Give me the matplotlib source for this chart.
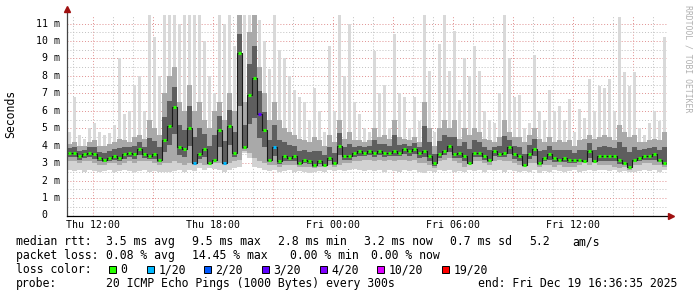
import numpy as np
import matplotlib.pyplot as plt
from matplotlib.patches import Rectangle
from matplotlib.transforms import blended_transform_factory

# 15 minute bins, hours relative to Thu 12:00 (graph starts ~Thu 10:42)
start_hour = -1.3
bin_hours = 0.25

# median rtt (ms) per bin
median = [3.6, 3.6, 3.4, 3.5, 3.6, 3.5, 3.3, 3.2, 3.3, 3.4, 3.3, 3.5, 3.6, 3.5, 3.8, 3.5, 3.4, 3.5, 3.2, 4.3,
          5.1, 6.2, 3.9, 3.8, 5.0, 3.0, 3.5, 3.8, 3.0, 3.2, 4.9, 3.0, 5.1, 3.6, 9.3, 3.9, 6.9, 7.9, 5.8, 4.9,
          3.2, 3.9, 3.1, 3.4, 3.3, 3.4, 3.0, 3.2, 3.1, 2.9, 3.1, 2.9, 3.3, 3.0, 4.0, 3.4, 3.4, 3.6, 3.7, 3.6,
          3.7, 3.6, 3.7, 3.6, 3.6, 3.7, 3.6, 3.8, 3.7, 3.8, 3.6, 3.7, 3.4, 3.0, 3.5, 3.7, 4.0, 3.5, 3.6, 3.4,
          3.0, 3.6, 3.6, 3.4, 3.2, 3.7, 3.5, 3.6, 3.9, 3.5, 3.4, 2.9, 3.5, 3.8, 3.0, 3.3, 3.5, 3.3, 3.2, 3.3,
          3.2, 3.2, 3.2, 3.1, 3.7, 3.1, 3.4, 3.4, 3.4, 3.4, 3.2, 3.0, 2.8, 3.2, 3.3, 3.4, 3.4, 3.5, 3.2, 3.0]

# lost pings out of 20 per bin
loss = [0] * 120
loss[25] = 1
loss[31] = 1
loss[38] = 3
loss[41] = 1

# smoke: min, lower quartile, upper quartile, max (ms)
smoke_min = [2.6, 2.55, 2.6, 2.5, 2.6, 2.55, 2.5, 2.55, 2.6, 2.5, 2.55, 2.6, 2.55, 2.5, 2.55, 2.6, 2.5, 2.55, 2.5, 2.5,
             2.5, 2.55, 2.6, 2.5, 2.6, 2.55, 2.7, 2.6, 2.7, 2.65, 2.6, 2.5, 2.6, 2.7, 2.8, 3.6, 3.3, 2.8, 2.7, 2.6,
             2.55, 2.6, 2.5, 2.55, 2.6, 2.5, 2.55, 2.5, 2.45, 2.5, 2.55, 2.5, 2.6, 2.55, 2.6, 2.55, 2.6, 2.65, 2.6, 2.55,
             2.6, 2.55, 2.6, 2.5, 2.6, 2.55, 2.5, 2.6, 2.55, 2.6, 2.5, 2.45, 2.55, 2.5, 2.6, 2.55, 2.6, 2.5, 2.55, 2.5,
             2.6, 2.55, 2.6, 2.5, 2.6, 2.55, 2.6, 2.5, 2.6, 2.55, 2.5, 2.55, 2.5, 2.6, 2.45, 2.55, 2.5, 2.6, 2.55, 2.5,
             2.55, 2.6, 2.5, 2.55, 2.6, 2.55, 2.6, 2.6, 2.55, 2.6, 2.5, 2.55, 2.5, 2.5, 2.55, 2.6, 2.55, 2.6, 2.5, 2.6]
smoke_q25 = [3.1, 3.1, 3.0, 3.1, 3.1, 3.0, 2.9, 2.9, 3.0, 3.0, 2.9, 3.0, 3.1, 3.0, 3.1, 3.1, 3.1, 3.0, 2.9, 3.0,
             3.0, 3.1, 3.0, 2.9, 3.0, 2.9, 3.0, 2.9, 2.9, 3.0, 3.0, 2.9, 3.0, 3.1, 3.2, 3.7, 3.6, 3.3, 3.1, 3.0,
             2.9, 2.9, 2.8, 2.9, 2.9, 2.9, 2.8, 2.8, 2.8, 2.7, 2.8, 2.8, 2.9, 2.8, 2.9, 3.0, 3.0, 3.1, 3.1, 3.2,
             3.2, 3.1, 3.2, 3.1, 3.2, 3.1, 3.2, 3.2, 3.1, 3.2, 3.0, 3.0, 2.9, 2.7, 3.1, 3.2, 3.3, 3.1, 3.0, 2.8,
             3.0, 3.1, 3.1, 3.0, 2.9, 3.1, 3.2, 3.1, 3.1, 3.0, 2.9, 2.8, 3.0, 3.0, 2.8, 2.9, 2.9, 2.8, 2.9, 2.8,
             2.8, 2.8, 2.9, 3.0, 2.9, 3.0, 2.9, 2.9, 2.9, 2.8, 2.7, 2.8, 2.6, 2.9, 2.9, 3.0, 3.0, 2.9, 2.9, 2.8]
smoke_q75 = [4.1, 4.2, 4.0, 4.0, 4.2, 4.3, 4.0, 4.0, 4.1, 4.2, 4.4, 4.3, 4.2, 4.5, 4.6, 4.4, 5.5, 5.0, 4.6, 7.0,
             8.0, 8.5, 6.5, 6.0, 7.5, 6.0, 6.5, 5.5, 5.0, 6.0, 6.5, 5.5, 7.0, 6.0, 11.5, 6.5, 10.5, 11.5, 8.5, 7.0,
             5.5, 6.5, 5.5, 5.0, 4.8, 4.6, 4.4, 4.3, 4.2, 4.5, 4.3, 4.0, 4.6, 4.2, 5.5, 4.4, 4.8, 4.3, 4.3, 4.2,
             4.3, 5.0, 4.5, 4.6, 4.4, 5.5, 4.5, 4.4, 4.3, 4.5, 4.2, 6.5, 5.0, 4.0, 5.0, 5.5, 5.0, 5.5, 4.4, 5.0,
             4.6, 5.0, 4.8, 4.4, 4.3, 4.2, 4.5, 5.5, 4.8, 4.5, 4.5, 4.2, 4.6, 5.0, 4.4, 4.2, 4.5, 4.2, 4.3, 4.2,
             4.3, 4.0, 4.3, 4.4, 4.6, 4.4, 4.5, 4.6, 4.5, 4.3, 5.2, 4.8, 4.5, 4.6, 4.2, 4.2, 4.3, 4.4, 4.3, 4.8]
smoke_max = [4.8, 6.8, 4.6, 4.4, 5.0, 5.3, 4.8, 4.6, 4.7, 5.2, 9.0, 5.8, 6.0, 7.5, 8.0, 6.0, 11.5, 10.2, 8.0, 11.5,
             11.5, 11.5, 11.0, 11.5, 11.5, 11.5, 11.5, 10.0, 8.0, 7.0, 11.5, 11.0, 11.5, 9.7, 11.5, 11.5, 11.5, 11.5, 11.2, 10.0,
             8.4, 11.5, 9.5, 9.0, 8.0, 7.2, 6.8, 6.5, 5.5, 7.3, 6.0, 4.8, 9.7, 6.0, 11.5, 8.0, 11.0, 6.5, 5.8, 5.0,
             4.8, 9.4, 7.0, 7.5, 5.0, 10.4, 7.0, 6.8, 5.0, 6.8, 5.4, 11.5, 8.3, 4.8, 9.8, 11.5, 8.3, 10.6, 6.6, 9.0,
             8.0, 9.7, 8.3, 6.0, 5.5, 5.3, 7.0, 11.5, 9.0, 6.8, 6.9, 5.0, 5.3, 9.2, 6.0, 5.5, 7.2, 6.0, 6.3, 5.5,
             6.7, 4.8, 6.1, 5.6, 7.8, 6.0, 7.4, 7.3, 7.8, 6.0, 11.4, 8.2, 7.4, 8.2, 5.0, 4.6, 5.3, 6.0, 5.4, 10.2]

tick_hours = [0, 6, 12, 18, 24]
tick_labels = ["Thu 12:00", "Thu 18:00", "Fri 00:00", "Fri 06:00", "Fri 12:00"]
y_values = list(range(12))
y_labels = ["0"] + ["%d m" % v for v in range(1, 12)]

loss_colors = {0: '#26ff00', 1: '#00b8ff', 2: '#0059ff', 3: '#5e00ff',
               4: '#7e00ff', 10: '#dd00ff', 19: '#ff0000'}

W, H = 697, 297
plt.rcParams['font.family'] = 'DejaVu Sans Mono'

fig = plt.figure(figsize=(W / 100, H / 100), dpi=100)
fig.patch.set_facecolor('white')
ax = fig.add_axes([67 / W, 1 - 215.5 / H, 600 / W, 200.7 / H])

n = len(median)
t = start_hour + bin_hours * np.arange(n)
edges = np.append(t, t[-1] + bin_hours)
centers = t + bin_hours / 2

med = np.array(median)
q25 = np.array(smoke_q25)
q75 = np.array(smoke_q75)
lo = np.array(smoke_min)
hi = np.array(smoke_max)


def stepped(v):
    return np.append(v, v[-1])


# smoke layers, lightest first
ax.bar(centers, hi - q75, bottom=q75, width=0.17, color='#d9d9d9', lw=0, zorder=2)
ax.fill_between(edges, stepped(lo), stepped(q75), step='post', color='#d2d2d2', lw=0, zorder=2)
ax.fill_between(edges, stepped(q25), stepped(q75), step='post', color='#a9a9a9', lw=0, zorder=3)
core_lo = (q25 + med) / 2
core_hi = (q75 + med) / 2
ax.fill_between(edges, stepped(core_lo), stepped(core_hi), step='post', color='#5e5e5e', lw=0, zorder=4)
ax.step(edges, stepped(med), where='post', color='#1a1a1a', lw=0.8, zorder=5)

# median marks in loss colour
for i in range(n):
    ax.hlines(median[i], t[i] + 0.05, t[i] + 0.2, color=loss_colors[loss[i]], lw=2.2, zorder=6)

ax.set_xlim(start_hour, start_hour + 30)
ax.set_ylim(0, 11.5)

# grid like rrdtool
ax.set_xticks(np.arange(0, 29, 3))
ax.set_xticks(np.arange(-1, 29, 1), minor=True)
ax.set_yticks(y_values)
ax.set_yticks(np.arange(0.5, 11.5, 1), minor=True)
ax.grid(which='minor', color='#c0c0c0', lw=0.7, ls=(0, (1, 2)), zorder=1)
ax.grid(which='major', color='#e09090', lw=0.7, ls=(0, (1, 2)), zorder=1)
ax.set_axisbelow(True)
ax.tick_params(which='both', length=0, labelbottom=False, labelleft=False)

for s in ax.spines.values():
    s.set_visible(False)

# axis lines with arrows
ax.plot([0, 0], [0, 1.027], transform=ax.transAxes, color='#444444', lw=0.9, clip_on=False, zorder=7)
ax.plot([0, 1.006], [0, 0], transform=ax.transAxes, color='black', lw=0.9, clip_on=False, zorder=7)
ax.plot(0, 1.027, marker='^', ms=4, color='#a01010', transform=ax.transAxes, clip_on=False, zorder=8)
ax.plot(1.006, 0, marker='>', ms=4, color='#a01010', transform=ax.transAxes, clip_on=False, zorder=8)

# tick labels
tr = blended_transform_factory(ax.transData, ax.transAxes)
for h, lab in zip(tick_hours, tick_labels):
    ax.text(h, -0.02, lab, transform=tr, ha='center', va='top', fontsize=7.1, clip_on=False)

tr = blended_transform_factory(ax.transAxes, ax.transData)
for v, lab in zip(y_values, y_labels):
    if v == 0:
        ax.text((41.8 - 67) / 600, v, lab, transform=tr, ha='left', va='center', fontsize=7.1)
    else:
        ax.text((59.8 - 67) / 600, v, lab, transform=tr, ha='right', va='center', fontsize=7.1)

fig.text(11 / W, 1 - 114 / H, "Seconds", rotation=90, ha='center', va='center', fontsize=8.3)
fig.text(688 / W, 1 - 59 / H, "RRDTOOL / TOBI OETIKER", rotation=270, ha='center', va='center',
         fontsize=5.9, color='#b0b0b0')


def put(x, y, s):
    fig.text(x / W, 1 - y / H, s, ha='left', va='baseline', fontsize=8.3)


put(16, 245.3, "median rtt:")
put(106.5, 245.3, "3.5 ms avg")
put(192.5, 245.3, "9.5 ms max")
put(278.5, 245.3, "2.8 ms min")
put(364.5, 245.3, "3.2 ms now")
put(450.5, 245.3, "0.7 ms sd")
put(529.5, 245.3, "5.2")
put(572, 245.3, "am/s")

put(16, 259.2, "packet loss:")
put(106.5, 259.2, "0.08 % avg")
put(192.5, 259.2, "14.45 % max")
put(290, 259.2, "0.00 % min")
put(371, 259.2, "0.00 % now")

put(16, 273.1, "loss color:")
legend_items = [(108.5, 0, "0"), (147, 1, "1/20"), (203.5, 2, "2/20"), (261.5, 3, "3/20"),
                (319.5, 4, "4/20"), (377, 10, "10/20"), (442, 19, "19/20")]
for x, k, lab in legend_items:
    fig.add_artist(Rectangle((x / W, 1 - 273 / H), 7 / W, 7 / H, transform=fig.transFigure,
                             facecolor=loss_colors[k], edgecolor='black', lw=0.7))
    put(x + 11.5, 273.1, lab)

put(16, 287, "probe:")
put(106.5, 287, "20 ICMP Echo Pings (1000 Bytes) every 300s")
put(477.5, 287, "end: Fri Dec 19 16:36:35 2025")

plt.savefig('out.png', dpi=100)
